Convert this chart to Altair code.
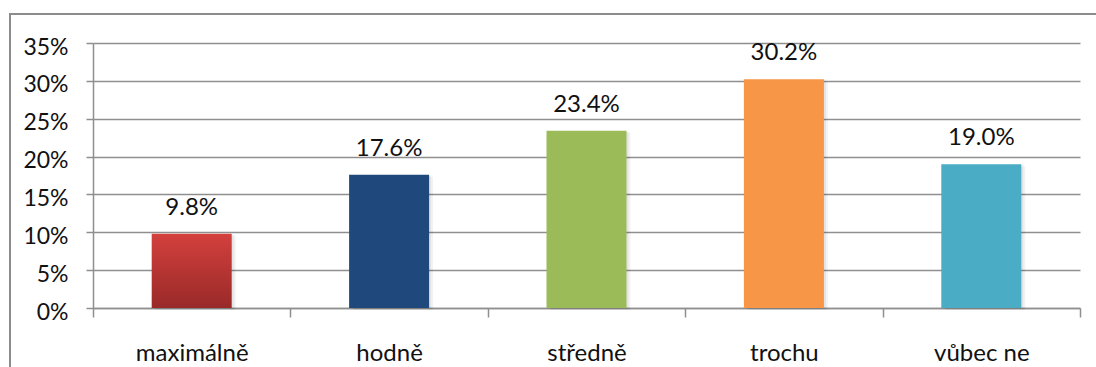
import altair as alt
import pandas as pd

# Survey answers and their shares (percent)
categories = ["maximálně", "hodně", "středně", "trochu", "vůbec ne"]
shares = [9.8, 17.6, 23.4, 30.2, 19.0]
bar_colors = ["#c0504d", "#1f497d", "#9bbb59", "#f79646", "#4bacc6"]
y_ticks = [0, 5, 10, 15, 20, 25, 30, 35]

df = pd.DataFrame({"category": categories, "share": shares, "fill": bar_colors})

FONT = "Lato"
GRID = "#8f8f8f"
BAR_W = 80

x_enc = alt.X(
    "category:N",
    sort=categories,
    scale=alt.Scale(paddingInner=0, paddingOuter=0),
    axis=alt.Axis(
        title=None,
        labelAngle=0,
        tickBand="extent",
        tickSize=9,
        tickColor=GRID,
        tickWidth=1.5,
        domainColor=GRID,
        domainWidth=1.5,
        labelFont=FONT,
        labelFontSize=24,
        labelColor="#111",
        labelBaseline="alphabetic",
        labelPadding=43,
    ),
)
y_enc = alt.Y(
    "share:Q",
    scale=alt.Scale(domain=[0, 35], nice=False),
    axis=alt.Axis(
        title=None,
        values=y_ticks,
        labelExpr="datum.value + '%'",
        tickSize=7,
        tickColor=GRID,
        tickWidth=1.5,
        domainColor=GRID,
        domainWidth=1.5,
        gridColor=GRID,
        gridWidth=1.5,
        labelFont=FONT,
        labelFontSize=23,
        labelColor="#111",
        labelPadding=18,
        labelOffset=4,
    ),
)

base = alt.Chart(df).encode(x=x_enc, y=y_enc)

# outer chart frame
frame = alt.Chart(pd.DataFrame({"k": [0]})).mark_rect(
    fill="transparent", stroke="#8c8c8c", strokeWidth=2
).encode(
    x=alt.value(-83), x2=alt.value(1010), y=alt.value(-29), y2=alt.value(330)
)

# soft drop shadow on the right of each bar
shadow1 = base.mark_bar(size=BAR_W, color="#000", opacity=0.06, xOffset=2, yOffset=1)
shadow2 = base.mark_bar(size=BAR_W, color="#000", opacity=0.05, xOffset=4, yOffset=2)

red_grad = alt.Gradient(
    gradient="linear",
    x1=0, y1=0, x2=0, y2=1,
    stops=[
        alt.GradientStop(offset=0, color="#d3403d"),
        alt.GradientStop(offset=1, color="#992a29"),
    ],
)

red_bar = base.transform_filter(
    alt.datum.category == categories[0]
).mark_bar(size=BAR_W, color=red_grad)

other_bars = base.transform_filter(
    alt.datum.category != categories[0]
).mark_bar(size=BAR_W).encode(color=alt.Color("fill:N", scale=None))

labels = base.transform_calculate(
    label="format(datum.share, '.1f') + '%'"
).mark_text(
    font=FONT, fontSize=24, color="#111", baseline="alphabetic", dy=-19
).encode(text="label:N")

chart = alt.layer(
    frame, shadow2, shadow1, red_bar, other_bars, labels
).properties(
    width=987,
    height=265,
    autosize=alt.AutoSizeParams(type="none"),
    padding={"left": 93, "top": 43, "right": 16, "bottom": 59},
    background="white",
).configure_view(stroke=None)

chart.save("out.html", embed_options={"renderer": "svg", "actions": False})
